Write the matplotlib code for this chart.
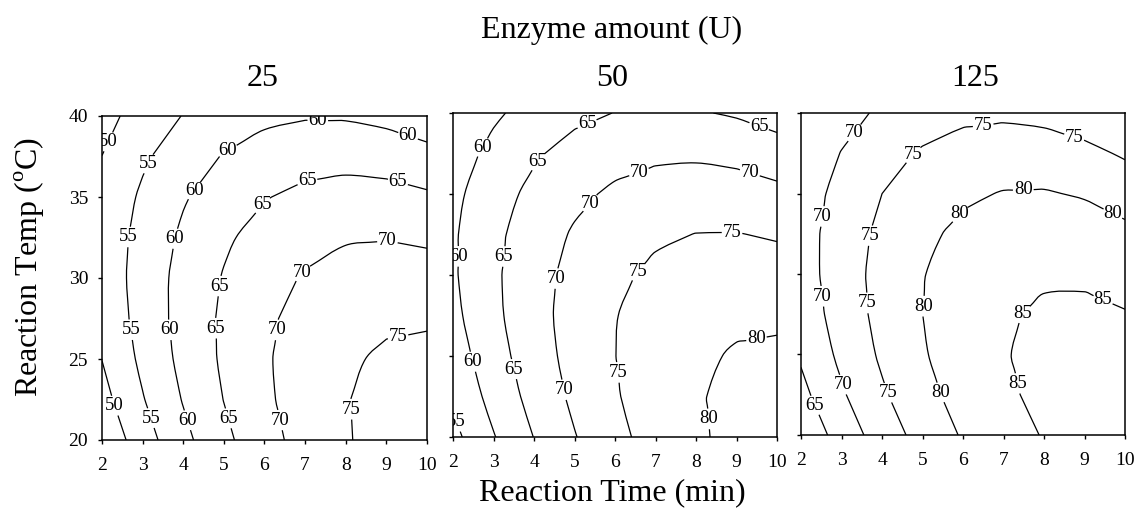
import matplotlib
matplotlib.use("Agg")
import numpy as np
import matplotlib.pyplot as plt
from matplotlib.path import Path
from matplotlib.patches import PathPatch

plt.rcParams['font.family'] = ['Liberation Serif', 'DejaVu Serif']
plt.rcParams['mathtext.fontset'] = 'custom'
plt.rcParams['mathtext.rm'] = 'Liberation Serif'

# axes of the response surface
time_min = [2, 3, 4, 5, 6, 7, 8, 9, 10]
temp_c = [20, 22.5, 25, 27.5, 30, 32.5, 35, 37.5, 40]
enzyme_u = ['25', '50', '125']
levels = [50, 55, 60, 65, 70, 75, 80, 85]

# yield values (rows = temp, cols = time)
yield_25 = [
    [46.00, 52.74, 58.69, 63.86, 68.24, 71.84, 74.65, 76.68, 77.92],
    [48.33, 54.70, 60.29, 65.10, 69.12, 72.35, 74.80, 76.47, 77.35],
    [50.07, 56.08, 61.31, 65.75, 69.41, 72.28, 74.37, 75.67, 76.19],
    [51.24, 56.89, 61.75, 65.83, 69.13, 71.64, 73.36, 74.30, 74.46],
    [51.81, 57.10, 61.60, 65.32, 68.25, 70.40, 71.76, 72.34, 72.13],
    [51.81, 56.73, 60.87, 64.23, 66.80, 68.58, 69.58, 69.80, 69.23],
    [51.21, 55.77, 59.55, 62.54, 64.75, 66.17, 66.81, 66.66, 65.73],
    [50.04, 54.24, 57.65, 60.28, 62.13, 63.19, 63.46, 62.95, 61.66],
    [48.28, 52.12, 55.17, 57.44, 58.92, 59.62, 59.53, 58.66, 57.00],
]
yield_50 = [
    [53.61, 59.71, 65.10, 69.75, 73.69, 76.90, 79.39, 81.15, 82.19],
    [55.86, 61.63, 66.67, 71.00, 74.59, 77.47, 79.62, 81.05, 81.75],
    [57.55, 62.98, 67.69, 71.68, 74.94, 77.48, 79.29, 80.38, 80.75],
    [58.78, 63.88, 68.25, 71.90, 74.82, 77.03, 78.50, 79.26, 79.29],
    [59.40, 64.16, 68.20, 71.51, 74.10, 75.96, 77.10, 77.52, 77.21],
    [59.41, 63.84, 67.54, 70.51, 72.76, 74.29, 75.09, 75.17, 74.53],
    [58.82, 62.90, 66.26, 68.90, 70.82, 72.01, 72.47, 72.22, 71.24],
    [57.61, 61.36, 64.38, 66.68, 68.26, 69.12, 69.25, 68.66, 67.34],
    [55.79, 59.20, 61.89, 63.85, 65.09, 65.61, 65.40, 64.47, 62.82],
]
yield_125 = [
    [61.00, 67.09, 72.36, 76.81, 80.44, 83.25, 85.24, 86.41, 86.76],
    [63.63, 69.41, 74.36, 78.50, 81.81, 84.31, 85.98, 86.84, 86.87],
    [65.64, 71.10, 75.74, 79.56, 82.56, 84.74, 86.10, 86.64, 86.36],
    [67.02, 72.16, 76.49, 79.99, 82.68, 84.54, 85.59, 85.81, 85.22],
    [67.77, 72.60, 76.61, 79.80, 82.17, 83.72, 84.45, 84.36, 83.45],
    [67.90, 72.42, 76.11, 78.99, 81.04, 82.28, 82.69, 82.29, 81.06],
    [67.41, 71.61, 74.99, 77.55, 79.29, 80.21, 80.31, 79.59, 78.05],
    [66.29, 70.17, 73.24, 75.48, 76.91, 77.51, 77.30, 76.26, 74.41],
    [65.30, 68.11, 70.86, 72.79, 73.90, 74.19, 73.66, 72.31, 70.14],
]
grids = [yield_25, yield_50, yield_125]

# where the contour labels sit (layout only)
label_spots = [
    [(2.33, 38.2), (2.29, 22.1),
     (3.27, 36.9), (2.73, 32.5), (2.69, 26.8), (3.14, 21.3),
     (5.18, 37.5), (4.37, 35.2), (3.88, 32.4), (3.67, 26.8), (4.08, 21.2), (7.31, 39.4), (9.51, 38.6),
     (6.0, 34.4), (7.06, 35.8), (4.90, 29.5), (4.78, 26.9), (5.06, 21.3), (9.27, 35.8),
     (6.94, 30.3), (6.29, 26.8), (6.33, 21.2), (9.02, 32.2),
     (9.27, 26.6), (8.12, 21.9)],
    [(2.16, 21.0),
     (2.78, 37.8), (2.16, 31.15), (2.57, 24.7),
     (4.09, 37.0), (5.28, 39.5), (9.59, 39.4), (3.23, 31.15), (3.52, 24.2),
     (5.28, 34.65), (6.51, 36.9), (9.34, 36.4), (4.46, 29.8), (4.71, 22.9),
     (6.43, 30.5), (8.89, 32.8), (5.94, 23.95),
     (9.47, 26.4), (8.23, 21.1)],
    [(2.30, 21.8),
     (3.25, 38.9), (2.47, 33.6), (2.47, 28.6), (3.0, 23.1),
     (4.77, 37.4), (6.5, 39.2), (8.72, 38.3), (3.66, 32.4), (3.62, 28.2), (4.12, 22.6),
     (5.93, 33.7), (7.49, 35.1), (9.71, 33.8), (5.02, 28.0), (5.39, 22.6),
     (7.41, 27.7), (9.51, 28.7), (7.16, 23.1)],
]


def smooth(path, x0, sx, y0, sy):
    # draw the contour polyline as a smooth bezier through its own vertices
    verts = path.vertices
    codes = path.codes
    if codes is None:
        codes = [Path.MOVETO] + [Path.LINETO] * (len(verts) - 1)
    pieces = []
    for v, c in zip(verts, codes):
        if c == Path.MOVETO:
            pieces.append([v])
        elif c == Path.LINETO:
            pieces[-1].append(v)
    out_v, out_c = [], []
    for pts in pieces:
        p = np.array(pts, dtype=float)
        p = np.column_stack([(p[:, 0] - x0) / sx, (p[:, 1] - y0) / sy])
        keep = [0] + [k for k in range(1, len(p)) if np.hypot(*(p[k] - p[k - 1])) > 1e-9]
        p = p[keep]
        n = len(p)
        if n < 3:
            q = p
            codes_here = [Path.MOVETO] + [Path.LINETO] * (n - 1)
        else:
            tang = np.zeros_like(p)
            tang[1:-1] = p[2:] - p[:-2]
            tang[0] = p[1] - p[0]
            tang[-1] = p[-1] - p[-2]
            tang /= np.hypot(tang[:, 0], tang[:, 1])[:, None]
            seg = np.hypot(*(p[1:] - p[:-1]).T)
            q = [p[0]]
            codes_here = [Path.MOVETO]
            for i in range(n - 1):
                q.append(p[i] + tang[i] * seg[i] / 3)
                q.append(p[i + 1] - tang[i + 1] * seg[i] / 3)
                q.append(p[i + 1])
                codes_here += [Path.CURVE4] * 3
            q = np.array(q)
        q = np.column_stack([q[:, 0] * sx + x0, q[:, 1] * sy + y0])
        out_v.extend(q)
        out_c.extend(codes_here)
    if not out_v:
        return None
    return Path(np.array(out_v), out_c)


W, H = 1136, 512
boxes = [(102, 427, 116, 440), (453, 777, 113, 437), (801, 1125, 113, 435)]

fig = plt.figure(figsize=(W / 100, H / 100), dpi=100)

for i in range(3):
    l, r, t, b = boxes[i]
    ax = fig.add_axes([l / W, 1 - b / H, (r - l) / W, (b - t) / H])
    cs = ax.contour(time_min, temp_c, grids[i], levels=levels,
                    colors='black', linewidths=0.9)
    txts = ax.clabel(cs, fmt='%d', fontsize=13.5, inline=True,
                     inline_spacing=1, manual=label_spots[i])
    for t in txts:
        t.set_rotation(0)
    for pth in cs.get_paths():
        if len(pth.vertices) == 0:
            continue
        sp = smooth(pth, 2, 8, 20, 20)
        if sp is not None:
            ax.add_patch(PathPatch(sp, fill=False, edgecolor='black', linewidth=0.9))
    cs.set_visible(False)
    ax.set_xlim(2, 10)
    ax.set_ylim(20, 40)
    ax.set_xticks(time_min)
    ax.set_yticks([20, 25, 30, 35, 40])
    if i > 0:
        ax.set_yticklabels([])
    for sp in ax.spines.values():
        sp.set_linewidth(1.1)
    ax.tick_params(direction='out', length=3, width=1, labelsize=14)
    ax.tick_params(axis='x', pad=9)
    ax.tick_params(axis='y', pad=7)

fig.text(612 / W, 1 - 30 / H, 'Enzyme amount (U)', ha='center', va='center', fontsize=23)
for xpos, lab in zip([263, 612, 975], enzyme_u):
    fig.text(xpos / W, 1 - 78 / H, lab, ha='center', va='center', fontsize=23)
fig.text(612 / W, 1 - 493 / H, 'Reaction Time (min)', ha='center', va='center', fontsize=23)
fig.text(30 / W, 1 - 267 / H, r'Reaction Temp ($^{\mathrm{o}}$C)', ha='center', va='center',
         rotation=90, fontsize=23)

fig.savefig('out.png', dpi=100)
